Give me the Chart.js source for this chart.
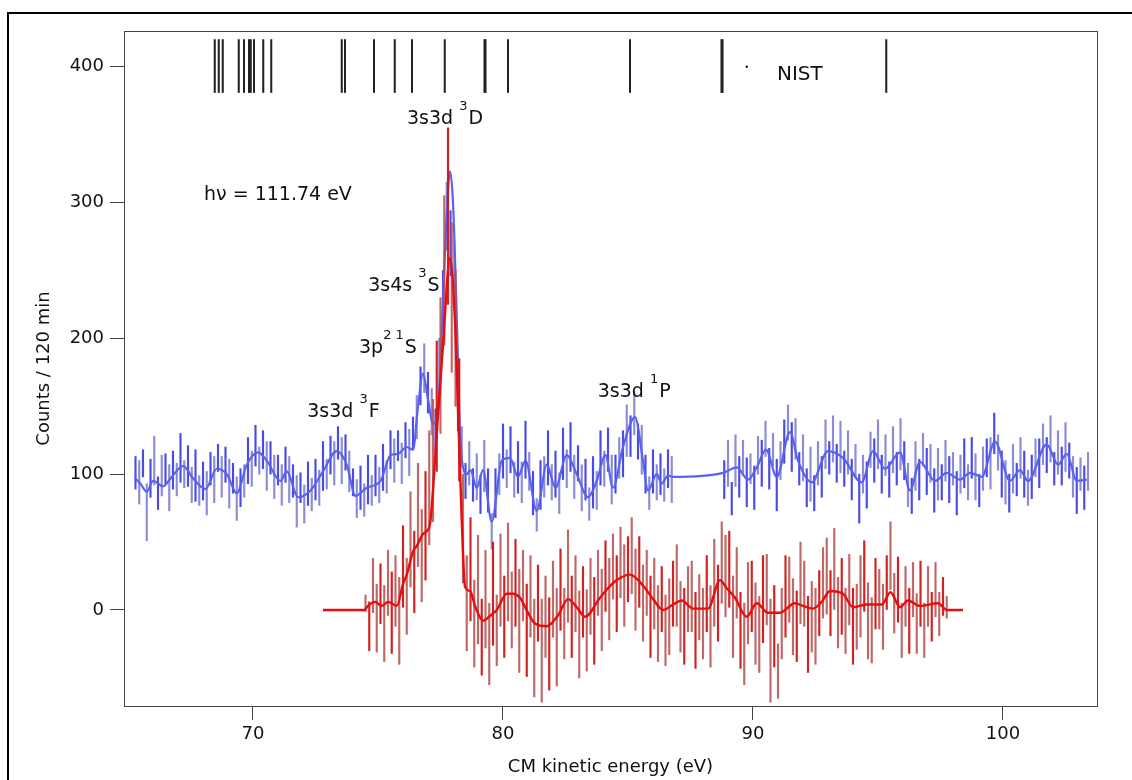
<!DOCTYPE html>
<html>
<head>
<meta charset="utf-8">
<script src="https://cdn.jsdelivr.net/npm/chart.js@4.4.1/dist/chart.umd.min.js"></script>
<style>
  html, body { margin: 0; padding: 0; background: #fff; }
  #wrap { position: relative; width: 1132px; height: 780px; overflow: hidden; }
  #frame { position: absolute; left: 7px; top: 12px; width: 1200px; height: 900px; border-left: 2px solid #000; border-top: 2px solid #000; }
  canvas { position: absolute; left: 0; top: 0; }
</style>
</head>
<body>
<div id="wrap"><div id="frame"></div><canvas id="c" width="1132" height="780"></canvas></div>
<script>
// energy bins are 0.15 eV wide; blue run has a gap between 86.75 and 88.85 eV
const binWidth = 0.15;
const blueStartA = 65.30;
const blueStartB = 88.85;
const redStart = 74.50;

// blue (first run) counts and errors
const blueCountsA = [
  101, 94, 108, 72, 97, 110, 86, 99, 104, 90,
  103, 96, 112, 100, 106, 92, 99, 88, 95, 86,
  104, 96, 112, 98, 107, 93, 97, 82, 90, 95,
  110, 104, 121, 110, 118, 106, 112, 98, 103, 92,
  107, 96, 95, 80, 90, 78, 93, 85, 96, 90,
  106, 100, 114, 108, 123, 110, 116, 102, 94, 82,
  90, 81, 96, 88, 99, 92, 105, 98, 118, 110,
  121, 108, 125, 116, 130, 142, 165, 178, 160, 146,
  132, 180, 228, 290, 270, 250, 150, 120, 95, 108,
  92, 98, 85, 106, 88, 58, 86, 100, 117, 104,
  118, 96, 105, 94, 118, 102, 86, 70, 92, 98,
  112, 94, 100, 86, 115, 104, 120, 98, 108, 90,
  96, 78, 94, 88, 112, 104, 118, 96, 100, 112,
  115, 132, 128, 145, 124, 118, 100, 86, 102, 94,
  100, 92, 104, 96
];
const blueErrA = [
  12, 16, 10, 21, 14, 18, 12, 15, 11, 17,
  14, 12, 18, 10, 15, 13, 19, 11, 14, 16,
  12, 17, 10, 15, 13, 18, 11, 16, 14, 12,
  17, 13, 15, 10, 14, 18, 12, 16, 11, 15,
  13, 17, 12, 19, 11, 14, 16, 12, 15, 13,
  18, 11, 14, 16, 12, 17, 13, 15, 10, 14,
  16, 12, 18, 11, 15, 13, 17, 12, 14, 16,
  11, 15, 13, 17, 12, 16, 14, 18, 15, 17,
  16, 20, 22, 25, 24, 22, 18, 15, 13, 16,
  12, 17, 14, 19, 16, 13, 18, 15, 20, 14,
  17, 13, 19, 15, 21, 14, 16, 12, 18, 15,
  20, 13, 17, 15, 19, 14, 18, 16, 13, 17,
  15, 12, 19, 14, 20, 13, 16, 18, 14, 15,
  17, 19, 15, 16, 13, 18, 14, 12, 16, 13,
  15, 12, 14, 17
];
// blue (second run) counts and errors
const blueCountsB = [
  96, 108, 82, 110, 98, 112, 94, 104, 90, 114,
  108, 126, 104, 118, 92, 110, 124, 138, 120, 126,
  104, 112, 90, 100, 86, 108, 98, 122, 112, 126,
  108, 120, 104, 116, 96, 110, 82, 100, 92, 118,
  110, 122, 100, 114, 96, 118, 104, 122, 110, 92,
  84, 106, 96, 118, 102, 108, 88, 100, 94, 110,
  96, 104, 86, 100, 108, 94, 112, 98, 88, 104,
  112, 108, 130, 116, 100, 94, 86, 104, 96, 112,
  100, 90, 98, 112, 108, 122, 114, 126, 104, 116,
  106, 120, 110, 98, 88, 100, 90, 102
];
const blueErrB = [
  14, 17, 12, 19, 15, 13, 18, 11, 16, 14,
  17, 13, 15, 12, 19, 14, 16, 13, 18, 15,
  12, 17, 14, 20, 13, 16, 15, 18, 12, 17,
  14, 19, 13, 16, 15, 12, 18, 14, 17, 13,
  16, 18, 14, 15, 13, 17, 12, 19, 14, 16,
  13, 18, 15, 12, 17, 14, 16, 19, 13, 15,
  17, 12, 16, 14, 18, 13, 15, 17, 12, 16,
  14, 19, 15, 13, 17, 16, 14, 18, 12, 15,
  17, 13, 16, 14, 18, 15, 13, 17, 12, 16,
  14, 18, 13, 15, 17, 12, 16, 14
];
// red counts and errors
const redCounts = [
  5, -12, 18, -6, 12, -10, 20, -2, 14, -8,
  32, 10, 52, 28, 70, 40, 62, 90, 110, 150,
  180, 250, 290, 230, 200, 140, 60, 5, 30, -10,
  15, -20, 8, -25, 12, -15, 22, -5, 28, 0,
  20, -8, 18, -15, 10, -28, 5, -30, -5, -25,
  8, -20, 15, -10, 25, -5, 12, -18, 6, -15,
  10, -8, 20, 0, 25, 8, 32, 12, 35, 18,
  30, 40, 15, 28, 5, 20, -5, 12, -10, 8,
  -15, -5, 12, 18, -5, -12, 8, 10, -15, 2,
  -10, 12, -12, 20, 5, 35, 25, 30, -5, 20,
  -15, -25, 5, 10, -10, -18, 8, 15, -30, -12,
  -45, -10, 10, 15, -5, -12, 20, 12, -18, -5,
  -12, 5, 20, 25, 5, 30, -2, 10, -8, 15,
  -12, -5, 10, 25, -8, -15, 12, 8, -5, 20,
  40, 5, 15, -15, 10, -8, 15, -10, 12, -15,
  10, -5, 15, -3, 10, 2
];
const redErr = [
  6, 18, 20, 25, 22, 28, 24, 30, 26, 32,
  30, 28, 35, 30, 38, 34, 40, 42, 45, 48,
  50, 55, 65, 55, 50, 45, 40, 35, 38, 32,
  40, 28, 36, 30, 38, 26, 34, 30, 36, 28,
  32, 38, 26, 34, 30, 36, 28, 38, 30, 34,
  28, 36, 30, 26, 34, 30, 28, 32, 26, 30,
  28, 32, 24, 30, 26, 30, 24, 28, 26, 30,
  24, 28, 30, 26, 28, 24, 30, 26, 28, 24,
  26, 28, 24, 30, 26, 28, 24, 26, 28, 24,
  26, 28, 30, 32, 28, 30, 30, 28, 30, 26,
  28, 30, 30, 26, 30, 28, 32, 26, 38, 30,
  20, 26, 30, 24, 28, 26, 30, 24, 28, 26,
  28, 24, 26, 28, 24, 30, 26, 28, 24, 26,
  28, 24, 30, 26, 28, 24, 26, 22, 24, 20,
  25, 22, 24, 20, 22, 24, 20, 22, 24, 20,
  22, 18, 20, 16, 14, 8
];

// smoothed curves
const blueLineX = [
  65.28, 65.5, 65.75, 66.0, 66.4, 66.75, 67.2, 67.6, 68.1, 68.55,
  68.95, 69.35, 69.75, 70.2, 70.55, 71.1, 71.35, 71.8, 72.3, 72.8,
  73.35, 73.75, 74.1, 74.55, 75.1, 75.5, 75.8, 76.15, 76.4, 76.6,
  76.8, 77.0, 77.2, 77.41, 77.6, 77.75, 77.88, 78.0, 78.17, 78.28,
  78.4, 78.55, 78.7, 78.95, 79.2, 79.55, 79.95, 80.28, 80.6, 80.9,
  81.35, 81.75, 82.1, 82.55, 82.95, 83.4, 83.75, 84.1, 84.4, 84.8,
  85.28, 85.6, 85.8, 86.15, 86.35, 86.6, 86.8, 88.81, 89.35, 89.8,
  90.15, 90.52, 90.95, 91.48, 91.8, 92.35, 93.0, 93.6, 94.35, 94.8,
  95.28, 95.88, 96.28, 96.68, 97.28, 97.75, 98.28, 98.68, 99.15, 99.68,
  100.28, 100.68, 101.0, 101.75, 102.2, 102.55, 102.95, 103.35
];
const blueLineY = [
  97, 93, 87, 95, 91, 98, 106, 97, 89, 104,
  100, 86, 107, 116, 110, 95, 102, 83, 88, 102,
  117, 107, 84, 90, 95, 114, 115, 120, 118, 150,
  174, 155, 137, 149, 228, 292, 323, 300, 203, 130,
  105, 100, 103, 90, 103, 65, 110, 112, 98, 110,
  73, 107, 90, 114, 100, 83, 95, 114, 90, 120,
  142, 110, 88, 100, 93, 99, 98, 101, 105, 96,
  105, 118, 98, 131, 110, 94, 117, 112, 94, 117,
  104, 116, 88, 109, 95, 101, 96, 101, 98, 124,
  95, 103, 95, 122, 107, 115, 95, 96
];
const redLineX = [
  72.8, 74.45, 74.6, 74.88, 75.15, 75.41, 75.75, 76.0, 76.15, 76.4,
  76.55, 76.8, 76.95, 77.1, 77.35, 77.6, 77.88, 78.08, 78.21, 78.35,
  78.48, 78.68, 78.9, 79.2, 79.5, 79.75, 80.15, 80.4, 80.68, 81.0,
  81.28, 81.75, 82.2, 82.6, 82.95, 83.28, 83.88, 84.2, 84.55, 85.08,
  85.6, 86.0, 86.4, 86.8, 87.15, 87.6, 88.2, 88.68, 88.95, 89.28,
  89.75, 90.15, 90.6, 91.08, 91.68, 92.0, 92.4, 92.75, 93.08, 93.6,
  94.0, 94.55, 95.15, 95.5, 95.88, 96.2, 96.68, 97.4, 97.75, 98.4
];
const redLineY = [
  0, 0, 3, 6, 3, 6, 3, 19, 26, 43,
  47, 56, 58, 66, 130, 195, 259, 212, 142, 66,
  17, 14, 2, -8, -4, 0, 12, 12, 9, -2,
  -10, -12, -4, 8, 2, -5, 9, 16, 22, 26,
  18, 8, 0, 4, 7, 1, 1, 22, 16, 9,
  -5, 5, -2, -2, 5, 3, 1, 6, 14, 12,
  2, 4, 4, 13, 2, 7, 3, 5, 0, 0
];

// NIST level positions (eV), drawn as short sticks around 400
const nistLines = [68.47, 68.63, 68.79, 69.43, 69.64, 69.84, 69.91, 70.04, 70.41, 70.73,
  73.55, 73.68, 74.84, 75.67, 76.36, 77.67, 79.26, 79.30, 80.20, 85.08, 88.74, 88.78, 95.33];
const nistLow = 381;
const nistHigh = 420;

const xTickValues = [70, 80, 90, 100];
const yTickValues = [0, 100, 200, 300, 400];

function bins(start, counts, errs) {
  return counts.map((c, i) => ({ x: +(start + i * binWidth).toFixed(2), y: [c - errs[i], c + errs[i]] }));
}
function pairs(xs, ys) {
  return xs.map((x, i) => ({ x: x, y: ys[i] }));
}

const blueBars = bins(blueStartA, blueCountsA, blueErrA).concat(bins(blueStartB, blueCountsB, blueErrB));
const redBars = bins(redStart, redCounts, redErr);
const nistBars = nistLines.map(e => ({ x: e, y: [nistLow, nistHigh] }));

const font = '"DejaVu Sans", sans-serif';
Chart.defaults.font.family = font;
Chart.defaults.color = '#111';

// text labels on the plot: [x, y, pieces]; piece = [text, superscript?]
const notes = [
  [68.04, 302, [['hν = 111.74 eV']]],
  [76.16, 358, [['3s3d '], ['3', 1], ['D']]],
  [74.61, 235, [['3s4s '], ['3', 1], ['S']]],
  [74.24, 189, [['3p'], ['2 1', 1], ['S']]],
  [72.17, 142, [['3s3d '], ['3', 1], ['F']]],
  [83.79, 157, [['3s3d '], ['1', 1], ['P']]]
];

const boxPlugin = {
  id: 'box',
  afterDraw(chart) {
    const { ctx, chartArea: a, scales } = chart;
    ctx.save();
    ctx.strokeStyle = '#444';
    ctx.lineWidth = 1;
    ctx.strokeRect(a.left + 0.5, a.top + 0.5, a.right - a.left, a.bottom - a.top);

    ctx.fillStyle = '#111';
    ctx.textBaseline = 'alphabetic';
    ctx.textAlign = 'left';
    notes.forEach(([nx, ny, parts]) => {
      let px = scales.x.getPixelForValue(nx);
      const py = scales.y.getPixelForValue(ny);
      parts.forEach(([t, sup]) => {
        ctx.font = (sup ? '13px ' : '19px ') + font;
        ctx.fillText(t, px, sup ? py - 14 : py);
        px += ctx.measureText(t).width + (sup ? 1 : 0);
      });
    });

    // NIST key
    ctx.beginPath();
    ctx.arc(scales.x.getPixelForValue(89.75), scales.y.getPixelForValue(400), 1.2, 0, Math.PI * 2);
    ctx.fill();
    ctx.font = '20px ' + font;
    ctx.fillText('NIST', scales.x.getPixelForValue(90.96), scales.y.getPixelForValue(390.5));
    ctx.restore();
  }
};

new Chart(document.getElementById('c'), {
  type: 'bar',
  data: {
    datasets: [
      {
        type: 'line', label: 'red smooth', data: pairs(redLineX, redLineY),
        borderColor: 'rgb(232,12,12)', borderWidth: 2.4, pointRadius: 0,
        cubicInterpolationMode: 'monotone', order: 1
      },
      {
        label: 'red', data: redBars, barThickness: 1.5, order: 2,
        backgroundColor: c => c.dataIndex % 3 === 1 ? 'rgba(205,22,22,0.95)' : 'rgba(180,78,78,0.85)'
      },
      {
        type: 'line', label: 'blue smooth', data: pairs(blueLineX, blueLineY),
        borderColor: 'rgb(88,98,236)', borderWidth: 2.2, pointRadius: 0,
        cubicInterpolationMode: 'monotone', order: 3
      },
      {
        label: 'blue', data: blueBars, barThickness: 1.5, order: 4,
        backgroundColor: c => c.dataIndex % 2 ? 'rgba(128,128,210,0.9)' : 'rgba(64,64,228,0.95)'
      },
      {
        label: 'NIST', data: nistBars, barThickness: 1.4, order: 5,
        backgroundColor: '#222'
      }
    ]
  },
  options: {
    responsive: false,
    animation: false,
    layout: { padding: { top: 31, right: 35, left: 0, bottom: 0 } },
    plugins: { legend: { display: false }, tooltip: { enabled: false } },
    scales: {
      x: {
        type: 'linear', min: 64.84, max: 103.76, offset: false, stacked: true,
        afterBuildTicks: s => { s.ticks = xTickValues.map(v => ({ value: v })); },
        afterFit: s => { s.height = 74; },
        grid: { drawOnChartArea: false, drawTicks: true, tickLength: 14, color: '#444', offset: false },
        border: { display: false },
        ticks: { font: { size: 18 }, padding: 4, color: '#111', maxRotation: 0 },
        title: { display: true, text: 'CM kinetic energy (eV)', font: { size: 18 }, padding: { bottom: 2 }, color: '#111' }
      },
      y: {
        type: 'linear', min: -70.7, max: 426.3, stacked: false, beginAtZero: false,
        afterBuildTicks: s => { s.ticks = yTickValues.map(v => ({ value: v })); },
        afterFit: s => { s.width = 124; },
        grid: { drawOnChartArea: false, drawTicks: true, tickLength: 14, color: '#444' },
        border: { display: false },
        ticks: { font: { size: 18 }, padding: 6, color: '#111' },
        title: { display: true, text: 'Counts / 120 min', font: { size: 18 }, padding: { top: 34 }, color: '#111' }
      }
    }
  },
  plugins: [boxPlugin]
});
</script>
</body>
</html>
